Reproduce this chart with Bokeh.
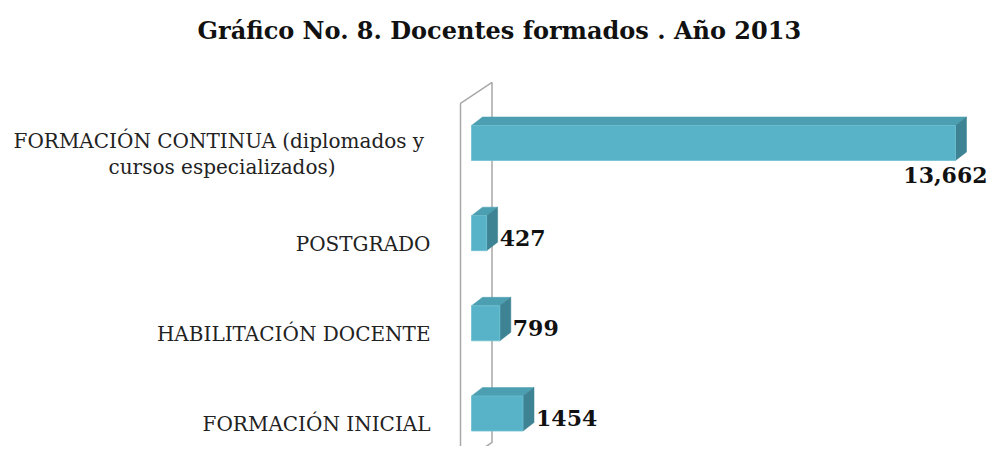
from bokeh.plotting import figure
from bokeh.models import ColumnDataSource, Range1d
from bokeh.core.properties import value
from bokeh.embed import file_html
from bokeh.resources import INLINE

# ---------------- data ----------------
title_text = "Gráfico No. 8. Docentes formados . Año 2013"
categories = [
    "FORMACIÓN INICIAL",
    "HABILITACIÓN DOCENTE",
    "POSTGRADO",
    "FORMACIÓN CONTINUA  (diplomados y\ncursos especializados)",
]
docentes = [1454, 799, 427, 13662]
value_labels = ["1454", "799", "427", "13,662"]

# ---------------- layout ----------------
W, H = 988, 446
TOP = 54                      # title band above the frame
FRAME_W, FRAME_H = W, H - TOP
X_START, X_END = -13295, 14593
Y_START, Y_END = -0.366, 3.981
PX_X = FRAME_W / (X_END - X_START)   # pixels per data unit
PX_Y = FRAME_H / (Y_END - Y_START)

DEPTH_X = 11 / PX_X           # 3-D depth offset (screen px -> data)
DEPTH_Y = 8.5 / PX_Y
HALF = 17.5 / PX_Y            # half bar thickness

FRONT = "#58B3C8"
TOPC = "#4C9EB1"
SIDE = "#3D8393"
FONT = value("DejaVu Serif")

pos = list(range(len(categories)))

p = figure(width=W, height=H, output_backend="svg", toolbar_location=None,
           x_range=Range1d(X_START, X_END), y_range=Range1d(Y_START, Y_END),
           x_axis_location=None, y_axis_location=None,
           min_border_left=0, min_border_right=0, min_border_bottom=0,
           min_border_top=TOP, title=title_text)
p.grid.visible = False
p.outline_line_color = None
p.background_fill_color = "white"
p.border_fill_color = "white"

p.title.align = "left"
p.title.offset = 197
p.title.text_font = "DejaVu Serif"
p.title.text_font_size = "24px"
p.title.text_font_style = "bold"
p.title.text_color = "#111111"
p.title.standoff = 20

# ---- back wall (parallelogram behind the bars) ----
wall_left = -DEPTH_X
wall_right = 20.5 / PX_X
wall_x = [wall_left, wall_right, wall_right, wall_left]
wall_y = [pos[0] + 310 / PX_Y, pos[0] + 331 / PX_Y,
          pos[0] - 29 / PX_Y, pos[0] - 50 / PX_Y]
p.patch(wall_x, wall_y, fill_color="white", line_color="#A8A8A8", line_width=1.5)

# ---- 3-D bars ----
src = ColumnDataSource(dict(
    y=pos, v=docentes,
    b=[y - HALF for y in pos], t=[y + HALF for y in pos],
))
top_xs, top_ys, side_xs, side_ys = [], [], [], []
for y, v in zip(pos, docentes):
    top_xs.append([0, v, v + DEPTH_X, DEPTH_X])
    top_ys.append([y + HALF, y + HALF, y + HALF + DEPTH_Y, y + HALF + DEPTH_Y])
    side_xs.append([v, v + DEPTH_X, v + DEPTH_X, v])
    side_ys.append([y - HALF, y - HALF + DEPTH_Y, y + HALF + DEPTH_Y, y + HALF])

p.patches(top_xs, top_ys, fill_color=TOPC, line_color=TOPC, line_width=0.5)
p.patches(side_xs, side_ys, fill_color=SIDE, line_color=SIDE, line_width=0.5)
p.quad(left=0, right="v", bottom="b", top="t", source=src,
       fill_color=FRONT, line_color="#6CC0D2", line_width=0.8)

# ---- category labels ----
cat_src = ColumnDataSource(dict(x=[0] * len(pos), y=pos, text=categories))
p.text(x="x", y="y", text="text", source=cat_src, text_font=FONT,
       text_font_size="20px", text_color="#222222", anchor="center_right",
       text_align="center", text_baseline="middle", x_offset=-41, y_offset=11,
       text_line_height=1.05)

# ---- value labels ----
small = [i for i, v in enumerate(docentes) if v < 10000]
big = [i for i, v in enumerate(docentes) if v >= 10000]
vs = ColumnDataSource(dict(x=[docentes[i] for i in small], y=[pos[i] for i in small],
                           text=[value_labels[i] for i in small]))
p.text(x="x", y="y", text="text", source=vs, text_font=FONT, text_font_size="22px",
       text_font_style="bold", text_color="#111111", text_align="left",
       text_baseline="middle", x_offset=13, y_offset=4.5)
vb = ColumnDataSource(dict(x=[docentes[i] for i in big], y=[pos[i] for i in big],
                           text=[value_labels[i] for i in big]))
p.text(x="x", y="y", text="text", source=vb, text_font=FONT, text_font_size="22px",
       text_font_style="bold", text_color="#111111", text_align="right",
       text_baseline="middle", x_offset=32, y_offset=32)

open("out.html", "w").write(file_html(p, INLINE))
